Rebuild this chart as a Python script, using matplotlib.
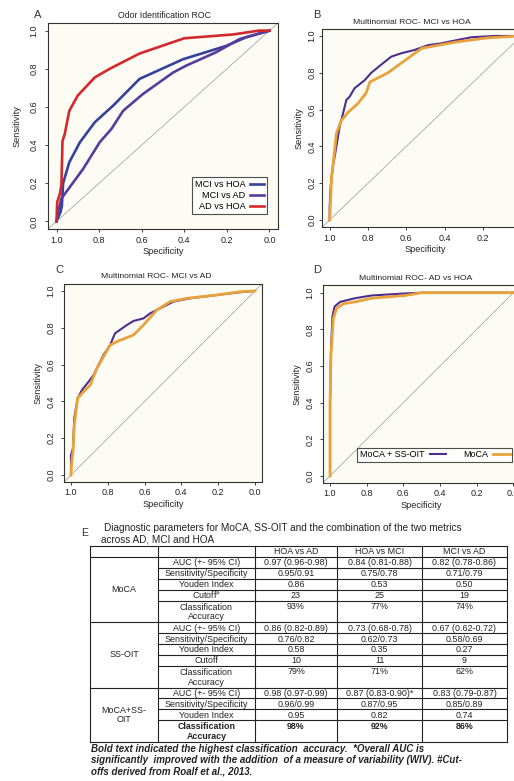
import matplotlib
matplotlib.use('Agg')
import matplotlib.pyplot as plt

plt.rcParams['font.family'] = ['Liberation Sans', 'DejaVu Sans']
plt.rcParams['mathtext.fontset'] = 'custom'
plt.rcParams['mathtext.rm'] = 'Liberation Sans'
plt.rcParams['mathtext.it'] = 'Liberation Sans:italic'
plt.rcParams['mathtext.bf'] = 'Liberation Sans:bold'

W, H = 514, 781

# ---------------- Panel A data ----------------
a_mci_hoa_spec = [1.0, 0.981, 0.975, 0.969, 0.94, 0.89, 0.82, 0.734, 0.61, 0.406, 0.203, 0.11, 0.0]
a_mci_hoa_sens = [0.0, 0.05, 0.08, 0.20, 0.31, 0.415, 0.52, 0.607, 0.747, 0.85, 0.92, 0.965, 1.0]
a_mci_ad_spec = [1.0, 0.99, 0.977, 0.875, 0.797, 0.742, 0.687, 0.594, 0.453, 0.39, 0.25, 0.14, 0.0]
a_mci_ad_sens = [0.0, 0.06, 0.12, 0.275, 0.415, 0.485, 0.58, 0.668, 0.78, 0.817, 0.887, 0.956, 1.0]
a_ad_hoa_spec = [1.0, 0.997, 0.984, 0.977, 0.972, 0.961, 0.94, 0.90, 0.82, 0.75, 0.61, 0.40, 0.17, 0.05, 0.0]
a_ad_hoa_sens = [0.0, 0.10, 0.145, 0.19, 0.42, 0.46, 0.58, 0.66, 0.755, 0.80, 0.88, 0.96, 0.98, 1.0, 1.0]

# ---------------- Panel B data ----------------
b_comb_spec = [1.0, 1.0, 0.995, 0.983, 0.965, 0.948, 0.93, 0.913, 0.896, 0.87, 0.817, 0.783, 0.73,
               0.678, 0.626, 0.557, 0.487, 0.417, 0.348, 0.26, 0.14, 0.0]
b_comb_sens = [0.0, 0.07, 0.18, 0.29, 0.40, 0.507, 0.58, 0.652, 0.67, 0.716, 0.76, 0.80, 0.845,
               0.888, 0.906, 0.924, 0.95, 0.96, 0.975, 0.993, 1.0, 1.0]
b_moca_spec = [1.0, 0.995, 0.99, 0.974, 0.965, 0.94, 0.904, 0.852, 0.81, 0.79, 0.696, 0.52, 0.348, 0.174, 0.0]
b_moca_sens = [0.0, 0.11, 0.235, 0.38, 0.47, 0.54, 0.585, 0.634, 0.69, 0.75, 0.80, 0.933, 0.966, 0.99, 1.0]

# ---------------- Panel C data ----------------
c_comb_spec = [1.0, 1.0, 0.989, 0.982, 0.964, 0.94, 0.904, 0.877, 0.85, 0.823, 0.787, 0.772, 0.76,
               0.696, 0.66, 0.606, 0.57, 0.533, 0.443, 0.353, 0.208, 0.081, 0.0]
c_comb_sens = [0.0, 0.109, 0.145, 0.308, 0.417, 0.462, 0.507, 0.543, 0.598, 0.652, 0.706, 0.743, 0.77,
               0.815, 0.837, 0.851, 0.878, 0.897, 0.942, 0.96, 0.978, 0.993, 1.0]
c_moca_spec = [1.0, 0.996, 0.989, 0.982, 0.964, 0.931, 0.895, 0.859, 0.823, 0.787, 0.75, 0.66,
               0.606, 0.533, 0.461, 0.37, 0.208, 0.081, 0.0]
c_moca_sens = [0.0, 0.072, 0.127, 0.27, 0.417, 0.453, 0.489, 0.58, 0.643, 0.706, 0.725, 0.761,
               0.815, 0.897, 0.942, 0.96, 0.978, 0.996, 1.0]

# ---------------- Panel D data ----------------
d_comb_spec = [1.0, 1.0, 0.995, 0.987, 0.975, 0.945, 0.864, 0.773, 0.59, 0.5, 0.0]
d_comb_sens = [0.0, 0.39, 0.68, 0.87, 0.925, 0.95, 0.97, 0.985, 0.996, 1.0, 1.0]
d_moca_spec = [1.0, 1.0, 0.995, 0.982, 0.964, 0.927, 0.864, 0.773, 0.59, 0.5, 0.0]
d_moca_sens = [0.0, 0.39, 0.66, 0.86, 0.915, 0.94, 0.95, 0.97, 0.985, 1.0, 1.0]

tick_vals = [1.0, 0.8, 0.6, 0.4, 0.2, 0.0]
tick_labels = ['1.0', '0.8', '0.6', '0.4', '0.2', '0.0']
ytick_vals = [0.0, 0.2, 0.4, 0.6, 0.8, 1.0]
ytick_labels = ['0.0', '0.2', '0.4', '0.6', '0.8', '1.0']

# ---------------- Table data ----------------
table_title = ['Diagnostic parameters for MoCA, SS-OIT and the combination of the two metrics',
               'across AD, MCI and HOA']
col_headers = ['HOA vs AD', 'HOA vs MCI', 'MCI vs AD']
groups = ['MoCA', 'SS-OIT', 'MoCA+SS-\nOIT']
moca_rows = ['AUC (+- 95% CI)', 'Sensitivity/Specificity', 'Youden Index', r'Cutoff$^{\#}$', 'Classification\nAccuracy']
ssoit_rows = ['AUC (+- 95% CI)', 'Sensitivity/Specificity', 'Youden Index', 'Cutoff', 'Classification\nAccuracy']
comb_rows = ['AUC (+- 95% CI)', 'Sensitivity/Specificity', 'Youden Index', 'Classification\nAccuracy']
moca_hoa_ad = ['0.97 (0.96-0.98)', '0.95/0.91', '0.86', '23', '93%']
moca_hoa_mci = ['0.84 (0.81-0.88)', '0.75/0.78', '0.53', '25', '77%']
moca_mci_ad = ['0.82 (0.78-0.86)', '0.71/0.79', '0.50', '19', '74%']
ssoit_hoa_ad = ['0.86 (0.82-0.89)', '0.76/0.82', '0.58', '10', '79%']
ssoit_hoa_mci = ['0.73 (0.68-0.78)', '0.62/0.73', '0.35', '11', '71%']
ssoit_mci_ad = ['0.67 (0.62-0.72)', '0.58/0.69', '0.27', '9', '62%']
comb_hoa_ad = ['0.98 (0.97-0.99)', '0.96/0.99', '0.95', '98%']
comb_hoa_mci = ['0.87 (0.83-0.90)*', '0.87/0.95', '0.82', '92%']
comb_mci_ad = ['0.83 (0.79-0.87)', '0.85/0.89', '0.74', '86%']
footnote = ['Bold text indicated the highest classification  accuracy.  *Overall AUC is',
            'significantly  improved with the addition  of a measure of variability (WIV). #Cut-',
            'offs derived from Roalf et al., 2013.']

BLUE = '#34429c'
VIOLET = '#563c9c'
RED = '#d3282c'
PURPLE = '#4b2e90'
ORANGE = '#e9a23b'
BG = '#fcfcf4'
TXT = '#222222'

fig = plt.figure(figsize=(W / 100, H / 100), dpi=100)
fig.patch.set_facecolor('white')

ov = fig.add_axes([0, 0, 1, 1])
ov.set_xlim(0, W)
ov.set_ylim(H, 0)
ov.axis('off')
ov.patch.set_alpha(0)


def pax(x0, y0, x1, y1):
    return fig.add_axes([x0 / W, 1 - y1 / H, (x1 - x0) / W, (y1 - y0) / H])


def style(ax, xpad, ypad, xlp, ylp):
    ax.set_facecolor(BG)
    ax.set_xlim(1.04, -0.04)
    ax.set_ylim(-0.04, 1.04)
    ax.set_xticks(tick_vals)
    ax.set_xticklabels(tick_labels)
    ax.set_yticks(ytick_vals)
    ax.set_yticklabels(ytick_labels, rotation=90, va='center')
    ax.tick_params(axis='both', length=2.5, width=0.6, labelsize=6.5, colors=TXT)
    ax.tick_params(axis='x', pad=xpad)
    ax.tick_params(axis='y', pad=ypad)
    for s in ax.spines.values():
        s.set_linewidth(0.8)
        s.set_color('#333333')
    ax.axline((1, 0), (0, 1), color='#a8a8a8', lw=0.6, zorder=1)
    ax.set_xlabel('Specificity', fontsize=6.6, labelpad=xlp, color=TXT)
    ax.set_ylabel('Sensitivity', fontsize=6.6, labelpad=ylp, color=TXT)


# Panel A
axA = pax(48, 23, 278, 229)
style(axA, 2.2, 4.6, 1.8, 5.6)
axA.plot(a_mci_hoa_spec, a_mci_hoa_sens, color=BLUE, lw=1.9, label='MCI vs HOA', zorder=3)
axA.plot(a_mci_ad_spec, a_mci_ad_sens, color=VIOLET, lw=1.9, label='MCI vs AD', zorder=3)
axA.plot(a_ad_hoa_spec, a_ad_hoa_sens, color=RED, lw=1.9, label='AD vs HOA', zorder=4)
legA = axA.legend(loc='lower right', bbox_to_anchor=(0.95, 0.075), markerfirst=False, fontsize=6.6,
                  frameon=True, fancybox=False, edgecolor='#222222', handlelength=1.5,
                  handletextpad=0.5, borderpad=0.3, labelspacing=0.2, borderaxespad=0)
legA.get_frame().set_linewidth(0.8)
legA.get_frame().set_facecolor('white')

# Panel B
axB = pax(322, 28.6, 529, 227.4)
style(axB, 2.6, 1.3, 1.3, 3.2)
axB.plot(b_comb_spec, b_comb_sens, color=PURPLE, lw=1.5, zorder=3)
axB.plot(b_moca_spec, b_moca_sens, color=ORANGE, lw=2.0, zorder=4)

# Panel C
axC = pax(63.6, 283.6, 262.3, 482.4)
style(axC, 1.8, 3.3, 1.8, 3.0)
axC.plot(c_comb_spec, c_comb_sens, color=PURPLE, lw=1.5, zorder=3)
axC.plot(c_moca_spec, c_moca_sens, color=ORANGE, lw=2.0, zorder=4)

# Panel D
axD = pax(322.7, 285.4, 520.7, 483.3)
style(axD, 1.8, 3.3, 1.8, 2.8)
axD.plot(d_comb_spec, d_comb_sens, color=PURPLE, lw=1.5, zorder=3, label='MoCA + SS-OIT')
axD.plot(d_moca_spec, d_moca_sens, color=ORANGE, lw=2.0, zorder=4, label='MoCA')
legD = axD.legend(loc='lower right', bbox_to_anchor=(0.958, 0.108), markerfirst=False, fontsize=6.5,
                  ncol=2, frameon=True, fancybox=False, edgecolor='#222222', handlelength=1.8,
                  handletextpad=0.6, columnspacing=1.9, borderpad=0.3, borderaxespad=0)
legD.get_frame().set_linewidth(0.8)
legD.get_frame().set_facecolor('white')

# Titles and panel letters
ov.text(38, 15, 'A', fontsize=8, color='#333333', ha='center', va='center')
ov.text(165, 15, 'Odor Identification ROC', fontsize=6.3, color=TXT, ha='center', va='center')
ov.text(317, 15, 'B', fontsize=8, color='#333333', ha='center', va='center')
ov.text(412, 23, 'Multinomial ROC- MCI vs HOA', fontsize=6.1, color=TXT, ha='center', va='center')
ov.text(59, 270, 'C', fontsize=8, color='#333333', ha='center', va='center')
ov.text(156, 277, 'Multinomial ROC- MCI vs AD', fontsize=6.1, color=TXT, ha='center', va='center')
ov.text(317, 270, 'D', fontsize=8, color='#333333', ha='center', va='center')
ov.text(416, 278, 'Multinomial ROC- AD vs HOA', fontsize=6.1, color=TXT, ha='center', va='center')

# ---------------- Table E ----------------
ov.text(85, 533, 'E', fontsize=7.4, color='#333333', ha='center', va='center')
ov.text(104, 528, table_title[0], fontsize=7.2, color=TXT, ha='left', va='center')
ov.text(101, 540, table_title[1], fontsize=7.2, color=TXT, ha='left', va='center')

cx = [90, 158, 255, 337, 422, 507]
top = 546
hdr_bot = 557
u = (742 - 557) / 17.0
fs = 6.4
lw_t = 0.8
lc = '#222222'

group_specs = [
    (groups[0], moca_rows, [moca_hoa_ad, moca_hoa_mci, moca_mci_ad]),
    (groups[1], ssoit_rows, [ssoit_hoa_ad, ssoit_hoa_mci, ssoit_mci_ad]),
    (groups[2], comb_rows, [comb_hoa_ad, comb_hoa_mci, comb_mci_ad]),
]

for j, hname in enumerate(col_headers):
    ov.text((cx[j + 2] + cx[j + 3]) / 2, (top + hdr_bot) / 2 + 0.5, hname, fontsize=fs, color=TXT,
            ha='center', va='center')
ov.plot([cx[0], cx[-1]], [top, top], color=lc, lw=lw_t)
ov.plot([cx[0], cx[-1]], [hdr_bot, hdr_bot], color=lc, lw=lw_t)

y = hdr_bot
for gi, (gname, rows, vals) in enumerate(group_specs):
    g_top = y
    for ri, rname in enumerate(rows):
        nun = 2 if '\n' in rname else 1
        r_top = y
        r_bot = y + nun * u
        bold = (gi == 2 and nun == 2)
        fw = 'bold' if bold else 'normal'
        ov.text((cx[1] + cx[2]) / 2, (r_top + r_bot) / 2 + 0.5, rname, fontsize=fs, color=TXT,
                ha='center', va='center', fontweight=fw, linespacing=1.1)
        for j in range(3):
            ov.text((cx[j + 2] + cx[j + 3]) / 2, r_top + u / 2 + 0.5, vals[j][ri], fontsize=fs,
                    color=TXT, ha='center', va='center', fontweight=fw)
        if ri < len(rows) - 1:
            ov.plot([cx[1], cx[-1]], [r_bot, r_bot], color=lc, lw=lw_t)
        y = r_bot
    ov.plot([cx[0], cx[-1]], [y, y], color=lc, lw=lw_t)
    ov.text((cx[0] + cx[1]) / 2, (g_top + y) / 2, gname, fontsize=fs, color=TXT, ha='center',
            va='center', linespacing=1.05)

for xv in cx:
    ov.plot([xv, xv], [top, y], color=lc, lw=lw_t)

for k, line in enumerate(footnote):
    ov.text(91, 749 + 11 * k, line, fontsize=7.0, color=TXT, ha='left', va='center',
            fontweight='bold', fontstyle='italic')

fig.savefig('out.png', dpi=100)
